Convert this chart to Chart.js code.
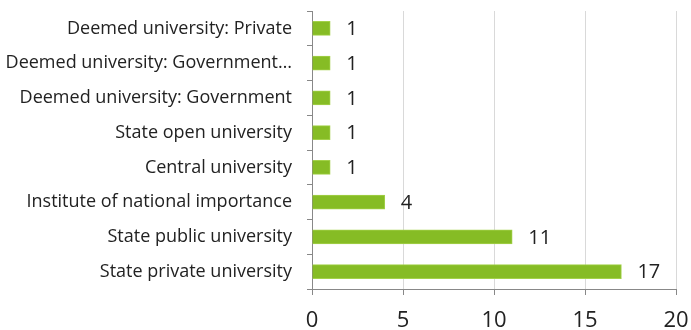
<!DOCTYPE html>
<html>
<head>
<meta charset="utf-8">
<script src="https://cdn.jsdelivr.net/npm/chart.js@4.4.1/dist/chart.umd.min.js"></script>
<style>
  html, body { margin: 0; padding: 0; background: #fff; }
</style>
</head>
<body>
<canvas id="uniChart" width="691" height="330"></canvas>
<script>
const categories = [
  'Deemed university: Private',
  'Deemed university: Government…',
  'Deemed university: Government',
  'State open university',
  'Central university',
  'Institute of national importance',
  'State public university',
  'State private university'
];
const counts = [1, 1, 1, 1, 1, 4, 11, 17];
const xTicks = [0, 5, 10, 15, 20];

const FONT = '"Open Sans", Lato, sans-serif';

// draws the value a little to the right of each bar
const valueLabels = {
  id: 'valueLabels',
  afterDatasetsDraw(chart) {
    const ctx = chart.ctx;
    const meta = chart.getDatasetMeta(0);
    ctx.save();
    ctx.font = '20px ' + FONT;
    ctx.fillStyle = '#222';
    ctx.textAlign = 'left';
    ctx.textBaseline = 'middle';
    meta.data.forEach((bar, i) => {
      ctx.fillText(String(counts[i]), bar.x + 16, bar.y + 1);
    });
    ctx.restore();
  }
};

const ctx = document.getElementById('uniChart').getContext('2d');
new Chart(ctx, {
  type: 'bar',
  data: {
    labels: categories,
    datasets: [{
      data: counts,
      backgroundColor: '#86bc25',
      borderColor: '#a3d14a',
      borderWidth: 1,
      barThickness: 14
    }]
  },
  options: {
    indexAxis: 'y',
    responsive: false,
    animation: false,
    layout: { padding: { top: 11, right: 15, left: 0, bottom: 0 } },
    plugins: {
      legend: { display: false },
      tooltip: { enabled: false }
    },
    scales: {
      x: {
        min: 0,
        max: 20,
        afterBuildTicks(scale) {
          scale.ticks = xTicks.map(v => ({ value: v }));
        },
        afterFit(scale) {
          scale.height = 41;
          scale.paddingLeft = 0;
          scale.paddingRight = 0;
        },
        grid: {
          color: '#d9d9d9',
          tickColor: '#888',
          tickLength: 6,
          drawOnChartArea: true
        },
        border: { color: '#888', width: 1 },
        ticks: {
          color: '#222',
          font: { family: FONT, size: 22 },
          padding: 13
        }
      },
      y: {
        afterFit(scale) {
          scale.width = 312;
          scale.paddingTop = 0;
          scale.paddingBottom = 0;
        },
        grid: {
          drawOnChartArea: false,
          tickColor: '#888',
          tickLength: 5,
          offset: true
        },
        border: { color: '#888', width: 1 },
        ticks: {
          color: '#222',
          font: { family: FONT, size: 18 },
          padding: 15
        }
      }
    }
  },
  plugins: [valueLabels]
});
</script>
</body>
</html>
